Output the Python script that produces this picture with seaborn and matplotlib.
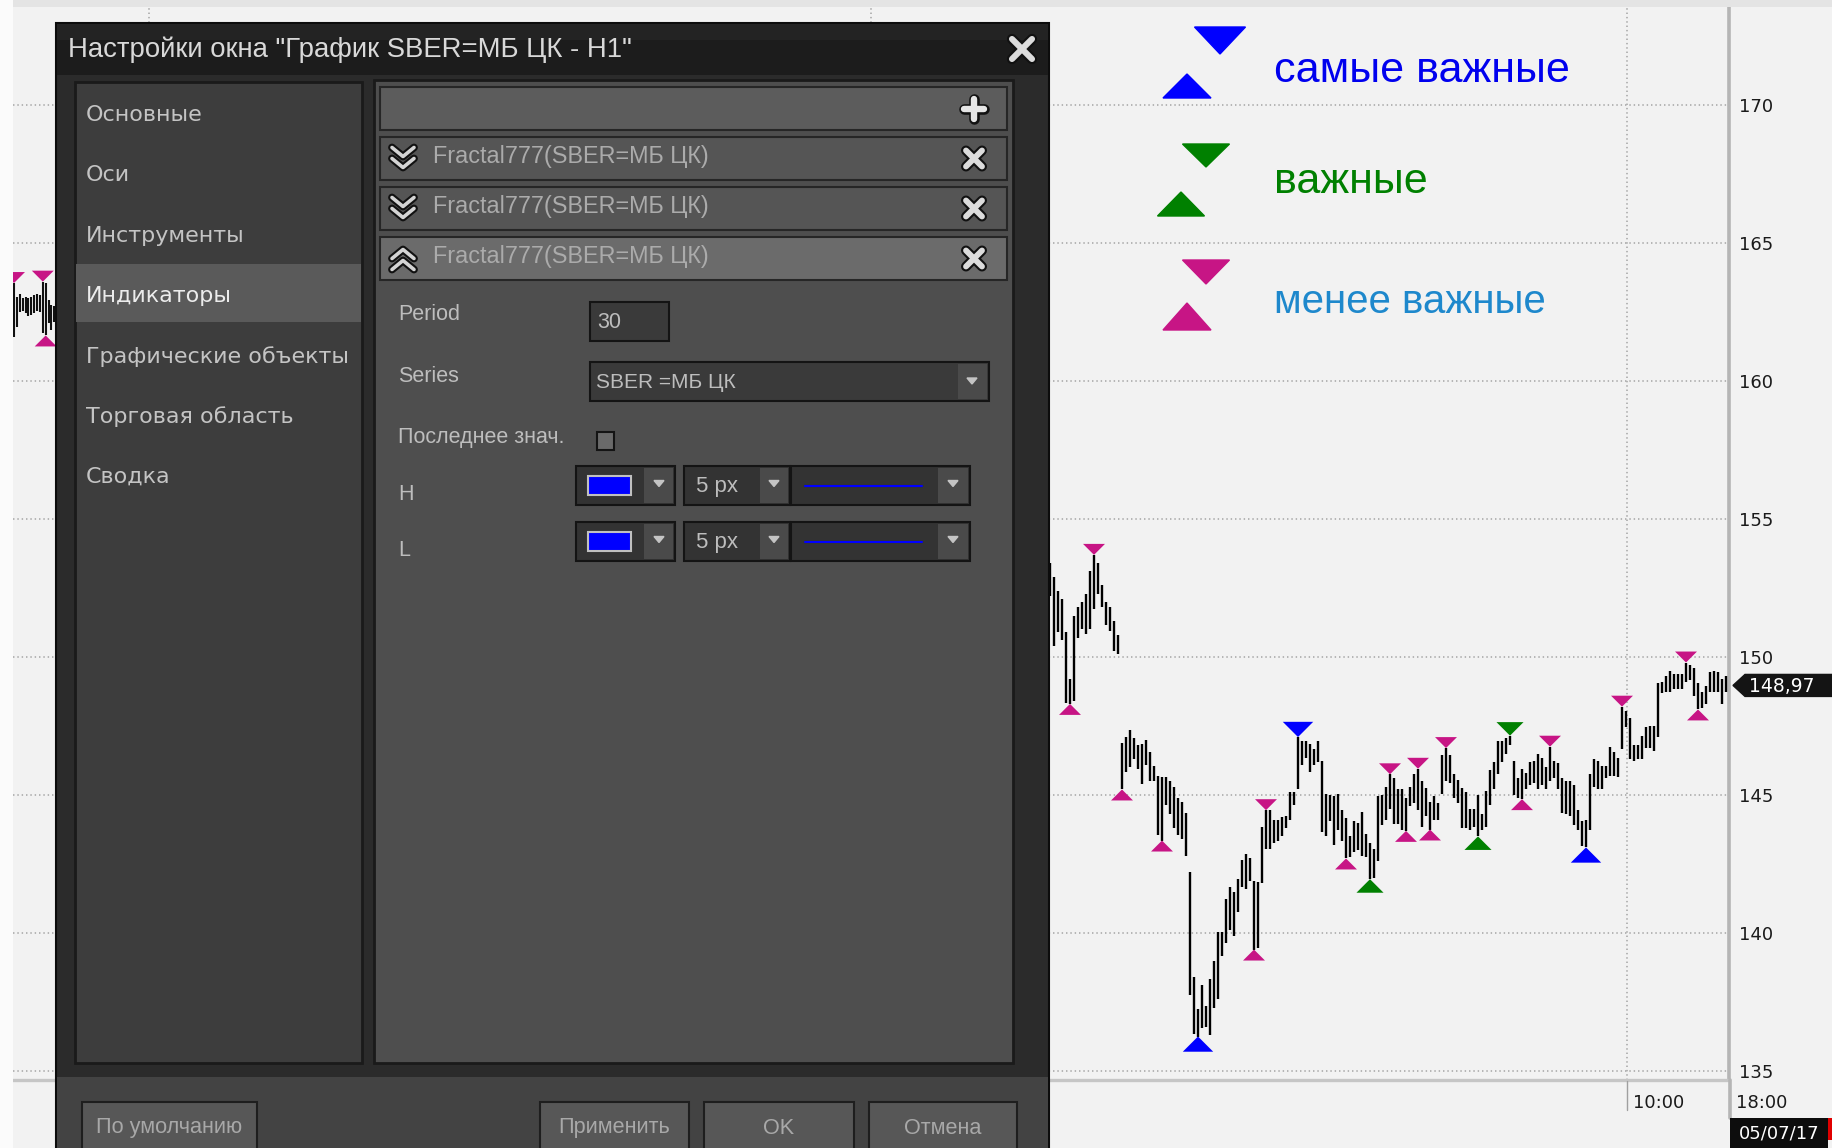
import numpy as np
import pandas as pd
import seaborn as sns
import matplotlib.pyplot as plt
from matplotlib.patches import Rectangle, Polygon

# %% data
# H1 bars to the right of the settings window
bar_high = [153.4, 152.9, 152.4, 152.1, 150.9, 149.2, 151.5, 151.8, 152.0, 152.3,
            153.1, 153.7, 153.4, 152.6, 152.0, 151.8, 151.3, 150.8, 146.9, 147.1,
            147.35, 147.05, 146.8, 146.85, 147.0, 146.55, 146.05, 145.7, 145.65, 145.65,
            145.5, 145.3, 144.9, 144.75, 144.35, 142.2, 138.4, 137.25, 138.1, 137.35,
            138.35, 139.0, 140.05, 140.05, 141.25, 141.65, 141.5, 141.95, 142.65, 142.85,
            142.7, 141.9, 141.85, 143.85, 144.45, 144.45, 144.1, 144.1, 144.2, 144.25,
            145.1, 145.1, 147.1, 146.95, 146.95, 146.85, 146.65, 146.95, 146.25, 145.05,
            145.0, 144.95, 145.05, 144.45, 144.15, 143.5, 144.05, 144.0, 144.4, 143.6,
            143.25, 143.05, 144.95, 145.0, 145.3, 145.75, 145.6, 145.2, 145.2, 144.9,
            145.3, 145.75, 145.95, 145.5, 145.25, 144.75, 144.95, 144.7, 146.45, 146.7,
            146.45, 145.75, 145.55, 145.25, 145.1, 144.5, 144.5, 145.0, 144.3, 145.15,
            145.9, 146.2, 146.95, 146.95, 147.05, 147.15, 146.25, 145.6, 145.95, 145.8,
            146.2, 146.25, 146.5, 146.35, 146.0, 146.75, 146.25, 146.15, 145.6, 145.5,
            145.5, 145.35, 144.45, 144.05, 144.1, 145.75, 146.3, 146.25, 146.05, 146.05,
            146.75, 146.55, 146.35, 148.2, 148.05, 147.8, 146.8, 146.8, 147.15, 147.45,
            147.5, 147.5, 149.05, 149.1, 149.3, 149.5, 149.4, 149.4, 149.4, 149.8,
            149.7, 149.6, 149.05, 148.75, 148.95, 149.45, 149.5, 149.45, 149.2, 149.3]
bar_low = [152.2, 150.4, 150.9, 150.6, 148.35, 148.3, 148.4, 150.7, 151.0, 150.85,
           151.0, 151.75, 152.3, 151.8, 151.15, 150.95, 150.2, 150.1, 145.2, 145.85,
           146.0, 146.3, 145.95, 145.4, 146.1, 145.5, 145.5, 143.55, 143.35, 144.65,
           144.3, 143.8, 143.55, 143.4, 142.8, 137.75, 136.35, 136.25, 136.55, 136.6,
           136.3, 137.3, 137.6, 139.15, 139.65, 140.1, 139.9, 140.75, 141.65, 141.6,
           141.9, 139.4, 139.45, 141.8, 143.05, 143.05, 143.25, 143.35, 143.5, 143.8,
           144.1, 144.65, 145.2, 146.1, 146.35, 145.85, 146.1, 146.2, 143.65, 143.5,
           144.05, 143.2, 143.75, 143.35, 142.7, 142.75, 142.95, 143.0, 142.8, 142.75,
           141.95, 142.0, 142.6, 143.9, 144.1, 144.5, 143.95, 143.95, 143.75, 143.7,
           144.6, 144.7, 144.45, 143.85, 144.25, 143.75, 144.1, 144.1, 145.05, 145.5,
           145.45, 144.9, 144.7, 143.8, 143.8, 143.75, 143.85, 143.5, 143.75, 143.85,
           144.65, 145.2, 145.75, 146.2, 146.5, 146.8, 145.0, 144.9, 144.85, 145.2,
           145.35, 145.45, 145.2, 145.35, 145.2, 145.5, 145.6, 145.2, 144.35, 144.3,
           144.25, 143.9, 143.75, 143.15, 143.1, 143.75, 145.3, 145.2, 145.2, 145.6,
           145.7, 145.7, 145.65, 146.65, 147.45, 146.3, 146.25, 146.3, 146.3, 146.7,
           146.7, 146.6, 147.1, 148.7, 148.75, 148.75, 148.85, 148.85, 148.85, 149.1,
           149.15, 148.6, 148.1, 148.15, 148.3, 148.75, 148.75, 148.75, 148.3, 148.75]

# bars at the left edge of the chart, the rest is hidden by the window
left_high = [163.55, 163.05, 163.15, 163.0, 163.05, 163.0, 163.05, 163.1,
             163.15, 163.1, 163.6, 163.55, 162.95, 162.75, 162.7]
left_low = [161.6, 161.95, 162.5, 162.55, 162.45, 162.35, 162.4, 162.45,
            162.55, 162.5, 161.75, 161.65, 162.1, 161.85, 162.15]

# fractals: bar number, direction, importance
frac_bar = [11, 54, 85, 92, 99, 125, 143, 159, 5, 18, 28, 51, 74, 89, 95, 118, 162,
            62, 37, 134, 115, 80, 107]
frac_dir = ['down'] * 8 + ['up'] * 9 + ['down', 'up', 'up', 'down', 'up', 'up']
frac_level = ['minor'] * 17 + ['major'] * 3 + ['mid'] * 3
left_frac_bar = [0, 10, 11]
left_frac_dir = ['down', 'down', 'up']

price_ticks = [135, 140, 145, 150, 155, 160, 165, 170]
last_price = 148.97
time_labels = ['10:00', '18:00']
date_label = '05/07/17'

legend_labels = ['самые важные', 'важные', 'менее важные']
menu_items = ['Основные', 'Оси', 'Инструменты', 'Индикаторы',
              'Графические объекты', 'Торговая область', 'Сводка']
indicator_rows = ['Fractal777(SBER=МБ ЦК)'] * 3
buttons = ['По умолчанию', 'Применить', 'OK', 'Отмена']

level_colors = {'major': '#0000ff', 'mid': '#008000', 'minor': '#c71585'}
level_text_colors = ['#0000ee', '#008000', '#1e88cc']

# %% style
sns.set_theme(style='white')
plt.rcParams['font.family'] = ['DejaVu Sans']
ui_font = ['Liberation Sans', 'DejaVu Sans']

W, H = 1832, 1148
PX = 27.6            # pixels per price unit
fig = plt.figure(figsize=(W / 100, H / 100), dpi=100, facecolor='#f2f2f2')

# main price axes
ax = fig.add_axes([0, (H - 1080) / H, 1729 / W, 1080 / H])
ax.set_facecolor('#f2f2f2')

idx = np.arange(len(bar_high))
left_idx = -259 + 0.72 * np.arange(len(left_high))
ax.vlines(idx, bar_low, bar_high, color='#000000', lw=1.7, zorder=3)
ax.vlines(left_idx, left_low, left_high, color='#111111', lw=1.5, zorder=3)

frac = pd.DataFrame({'bar': frac_bar, 'kind': frac_dir, 'level': frac_level})
frac['x'] = frac['bar'].astype(float)
frac['y'] = [bar_high[b] if k == 'down' else bar_low[b] for b, k in zip(frac_bar, frac_dir)]
lfrac = pd.DataFrame({'bar': left_frac_bar, 'kind': left_frac_dir, 'level': 'minor'})
lfrac['x'] = left_idx[lfrac['bar']]
lfrac['y'] = [left_high[b] if k == 'down' else left_low[b]
              for b, k in zip(left_frac_bar, left_frac_dir)]
frac = pd.concat([frac, lfrac], ignore_index=True)

# flat triangles with the tip on the bar extreme
tri_down = [(-1, 1), (1, 1), (0, 0)]
tri_up = [(-1, -1), (1, -1), (0, 0)]
sns.scatterplot(data=frac, x='x', y='y', hue='level', style='kind', size='level',
                palette=level_colors, markers={'down': tri_down, 'up': tri_up},
                sizes={'major': 480, 'mid': 380, 'minor': 250},
                linewidth=0, legend=False, ax=ax, zorder=4)

ax.set_xlim(-262.5, 169.75)
ax.set_ylim(170 - (1080 - 105) / PX, 170 + 105 / PX)
ax.set_xlabel('')
ax.set_ylabel('')
ax.set_yticks(price_ticks)
ax.set_yticklabels([str(t) for t in price_ticks])
ax.set_xticks([-225.25, -44.75, 144.25])
ax.set_xticklabels([])
ax.yaxis.tick_right()
ax.tick_params(axis='y', length=0, pad=7, labelsize=13, labelcolor='#1a1a1a')
ax.tick_params(axis='x', length=0)
ax.grid(True, color='#b0b0b0', linestyle=(0, (0.8, 1.6)), lw=1.3)
for s in ['top', 'left']:
    ax.spines[s].set_visible(False)
ax.spines['right'].set_color('#b5b5b5')
ax.spines['right'].set_linewidth(2.6)
ax.spines['bottom'].set_color('#c6c6c6')
ax.spines['bottom'].set_linewidth(2.4)


def py(p):
    return 105 + (170 - p) * PX


# overlay in pixel coordinates: window, legend, axis extras
ov = fig.add_axes([0, 0, 1, 1])
ov.set_xlim(0, W)
ov.set_ylim(H, 0)
ov.axis('off')


def rect(x0, y0, x1, y1, fc, ec='none', lw=0, z=2):
    ov.add_patch(Rectangle((x0, y0), x1 - x0, y1 - y0, facecolor=fc,
                           edgecolor=ec, linewidth=lw, zorder=z))


def icon(segments, lw=4.5, color='#dcdcdc'):
    # dark outline first for every stroke, light fill on top
    for xs, ys in segments:
        ov.plot(xs, ys, color='#111111', lw=lw + 3, solid_capstyle='round',
                solid_joinstyle='round', zorder=6)
    for xs, ys in segments:
        ov.plot(xs, ys, color=color, lw=lw, solid_capstyle='round',
                solid_joinstyle='round', zorder=7)


def small_arrow(x, y):
    ov.add_patch(Polygon([(x - 5, y - 3), (x + 5, y - 3), (x, y + 3)],
                         closed=True, color='#c4c4c4', zorder=5))


rect(0, 0, W, 7, '#e4e4e4', z=1)
rect(0, 0, 13, H, '#fbfbfb', z=1)

# window frame
rect(56, 23, 1049, H + 2, '#2b2b2b', ec='#0c0c0c', lw=1.5)
rect(57, 24, 1048, 75, '#1c1c1c', z=3)
rect(57, 24, 1048, 40, '#232323', z=3)
ov.text(68, 50, 'Настройки окна "График SBER=МБ ЦК - H1"', color='#d8d8d8',
        fontsize=19.8, va='center', family=ui_font, zorder=6)
icon([([1012, 1032], [39, 59]), ([1012, 1032], [59, 39])], lw=4.4)

# left list
rect(75, 82, 362, 1063, '#3d3d3d', ec='#1a1a1a', lw=2, z=3)
rect(76, 264, 361, 322, '#5a5a5a', z=4)
for i, item in enumerate(menu_items):
    ov.text(86, 115 + 60.3 * i, item, fontsize=16, va='center',
            color='#ececec' if i == 3 else '#c4c4c4', zorder=6)

# right panel
rect(374, 80, 1013, 1063, '#4e4e4e', ec='#1a1a1a', lw=2, z=3)
rect(380, 87, 1007, 130, '#5c5c5c', ec='#262626', lw=1.5, z=4)
icon([([964, 984], [109, 109]), ([974, 974], [99, 119])], lw=4.6, color='#e6e6e6')
for i, (y0, label) in enumerate(zip([137, 187, 237], indicator_rows)):
    yc = y0 + 21.5
    rect(380, y0, 1007, y0 + 43, '#6b6b6b' if i == 2 else '#555555',
         ec='#262626', lw=1.5, z=4)
    ov.text(433, yc - 2, label, color='#ababab', fontsize=16.8, va='center',
            family=ui_font, zorder=6)
    icon([([966, 982], [yc - 8, yc + 8]), ([966, 982], [yc + 8, yc - 8])], lw=4.2)
    s = 1 if i < 2 else -1
    icon([([392, 403, 414], [yc + s * (d - 5), yc + s * (d + 4), yc + s * (d - 5)])
          for d in (-6, 5)], lw=2.6, color='#d4d4d4')

lsz = 15.5
lab_color = '#bdbdbd'
for label, y in zip(['Period', 'Series', 'Последнее знач.', 'H', 'L'],
                    [315, 376, 437, 495, 551]):
    ov.text(398, y, label, color=lab_color, fontsize=lsz, va='center',
            family=ui_font, zorder=6)
rect(590, 302, 669, 341, '#3a3a3a', ec='#141414', lw=1.5, z=4)
ov.text(597, 323, '30', color=lab_color, fontsize=lsz, va='center', family=ui_font, zorder=6)
rect(590, 362, 989, 401, '#3a3a3a', ec='#141414', lw=1.5, z=4)
rect(958, 364, 987, 399, '#4a4a4a', z=5)
small_arrow(972, 381)
ov.text(596, 383, 'SBER =МБ ЦК', color=lab_color, fontsize=15, va='center',
        family=ui_font, zorder=6)
rect(597, 432, 614, 450, '#6a6a6a', ec='#141414', lw=1.5, z=4)
for yc in [485.5, 541.5]:
    y0, y1 = yc - 19.5, yc + 19.5
    rect(576, y0, 675, y1, '#333333', ec='#141414', lw=1.5, z=4)
    rect(588, yc - 10, 631, yc + 9, '#0000ff', ec='#c0c0c0', lw=1.5, z=5)
    rect(644, y0 + 2, 673, y1 - 2, '#4a4a4a', z=5)
    small_arrow(659, yc - 2)
    rect(684, y0, 790, y1, '#333333', ec='#141414', lw=1.5, z=4)
    rect(760, y0 + 2, 788, y1 - 2, '#4a4a4a', z=5)
    small_arrow(774, yc - 2)
    ov.text(696, yc + 1, '5 px', color=lab_color, fontsize=16, va='center',
            family=ui_font, zorder=6)
    rect(791, y0, 970, y1, '#333333', ec='#141414', lw=1.5, z=4)
    rect(938, y0 + 2, 968, y1 - 2, '#4a4a4a', z=5)
    small_arrow(953, yc - 2)
    ov.plot([805, 922], [yc, yc], color='#0000ff', lw=1.5, zorder=6)

# bottom buttons
rect(57, 1077, 1048, H + 2, '#434343', z=3)
for label, (x0, x1) in zip(buttons, [(82, 257), (540, 689), (704, 854), (869, 1017)]):
    rect(x0, 1102, x1, H + 4, '#575757', ec='#1e1e1e', lw=1.5, z=4)
    ov.text((x0 + x1) / 2, 1128, label, color='#a8a8a8', fontsize=15.6, ha='center',
            va='center', family=ui_font, zorder=6)

# legend of fractal importance
tris = [(1220, 54, 51, 27, 'down'), (1187, 74, 48, 24, 'up'),
        (1206, 167, 47, 23, 'down'), (1181, 192, 47, 24, 'up'),
        (1206, 284, 47, 24, 'down'), (1187, 303, 48, 27, 'up')]
for j, (cx, ytip, w, h, kind) in enumerate(tris):
    color = list(level_colors.values())[j // 2]
    yb = ytip - h if kind == 'down' else ytip + h
    ov.add_patch(Polygon([(cx - w / 2, yb), (cx + w / 2, yb), (cx, ytip)],
                         closed=True, color=color, zorder=5))
for label, color, yb, fs in zip(legend_labels, level_text_colors, [82, 193, 313],
                                [31, 31, 29]):
    ov.text(1274, yb, label, color=color, fontsize=fs, va='baseline',
            family=ui_font, zorder=5)

# last price tag and time axis
yc = py(last_price)
ov.add_patch(Polygon([(1733, yc), (1745, yc - 11), (W, yc - 11), (W, yc + 11), (1745, yc + 11)],
                     closed=True, color='#141414', zorder=5))
ov.text(1749, yc + 1, f'{last_price:.2f}'.replace('.', ','), color='white', fontsize=13.5,
        va='center', zorder=6)
ov.plot([1730, 1730], [1080, 1118], color='#b5b5b5', lw=2.6, zorder=2)
ov.plot([1627, 1627], [1081, 1110], color='#a0a0a0', lw=1, zorder=2)
ov.text(1659, 1103, time_labels[0], color='#1a1a1a', fontsize=13, ha='center', va='center')
ov.text(1736, 1103, time_labels[1], color='#1a1a1a', fontsize=13, ha='left', va='center')
rect(1730, 1118, 1828, H + 2, '#0d0d0d', z=4)
rect(1828, 1118, W, 1140, '#e00000', z=4)
ov.text(1779, 1134, date_label, color='white', fontsize=13, ha='center', va='center', zorder=6)

fig.savefig('out.png', dpi=100, facecolor=fig.get_facecolor())
